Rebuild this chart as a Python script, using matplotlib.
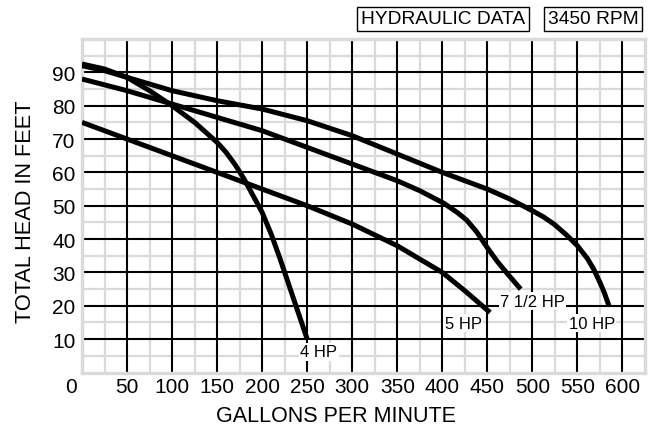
import matplotlib
matplotlib.use('Agg')
import matplotlib.pyplot as plt
import numpy as np
from matplotlib.transforms import ScaledTranslation

plt.rcParams['font.family'] = ['Liberation Sans', 'DejaVu Sans']

# ---- data ----
gpm_4hp = [0, 25, 50, 75, 100, 125, 150, 160, 170, 180, 190, 200, 210, 220, 230, 240, 250]
head_4hp = [92.5, 91, 88.5, 84.5, 80, 75, 69, 66, 62.3, 58, 53, 48, 41.5, 34, 26, 18, 10]

gpm_5hp = [0, 50, 100, 150, 200, 250, 300, 350, 400, 425, 453]
head_5hp = [75, 70, 65, 60, 55, 50, 44.5, 38, 30, 24.5, 18]

gpm_75hp = [0, 50, 100, 150, 200, 250, 300, 350, 375, 402, 417, 427, 438, 450, 461, 472, 487]
head_75hp = [88, 84.5, 80.5, 76.5, 72.5, 67.5, 62.5, 57.5, 54.5, 50.7, 47.9, 45.7, 42.2, 37.4, 33.3, 29.7, 25]

gpm_10hp = [0, 25, 50, 100, 150, 200, 250, 300, 350, 400, 450, 475, 500, 512, 524, 538, 550, 561, 568, 575, 580, 585]
head_10hp = [92, 90.5, 88.5, 84.5, 81.5, 79, 75.5, 71, 65.5, 60, 55, 52, 48.5, 46.7, 44.5, 41.2, 38, 34.2, 31, 27, 23.8, 20]

curve_labels = ['4 HP', '5 HP', '7 1/2 HP', '10 HP']
label_gpm = [263, 423, 500, 566]
label_head = [6.2, 14.8, 21.4, 14.8]

x_tick_labels = ['50', '100', '150', '200', '250', '300', '350', '400', '450', '500', '550', '600']
y_tick_labels = ['10', '20', '30', '40', '50', '60', '70', '80', '90']

# ---- figure ----
fig = plt.figure(figsize=(6.54, 4.31), dpi=100)
ax = fig.add_axes([82/654, 1-373.5/431, 563/654, 333.5/431])
ax.set_xlim(0, 625)
ax.set_ylim(0, 100)

x_major = np.arange(50, 601, 50)
x_minor = np.arange(25, 625, 50)
y_major = np.arange(10, 91, 10)
y_minor = np.arange(5, 100, 10)

grey = '#dadada'
ax.vlines(x_minor, 0, 100, color=grey, lw=1.6, zorder=1)
ax.hlines(y_minor, 0, 625, color=grey, lw=1.6, zorder=1)
ax.vlines(x_major, 0, 100, color='black', lw=1.5, zorder=2)
ax.hlines(y_major, 0, 625, color='black', lw=1.5, zorder=2)

for s in ax.spines.values():
    s.set_color(grey)
    s.set_linewidth(2.4)

for gx, gy in [(gpm_4hp, head_4hp), (gpm_5hp, head_5hp), (gpm_75hp, head_75hp), (gpm_10hp, head_10hp)]:
    ax.plot(gx, gy, color='black', lw=3.6, solid_capstyle='butt', solid_joinstyle='round', zorder=3)

for t, x, y in zip(curve_labels, label_gpm, label_head):
    ax.text(x, y, t, ha='center', va='center', fontsize=12, zorder=4,
            bbox=dict(facecolor='white', edgecolor='none', pad=1.0))

ax.set_xticks(x_major)
ax.set_xticklabels(x_tick_labels)
ax.set_yticks(y_major)
ax.set_yticklabels(y_tick_labels)
ax.tick_params(axis='both', length=0, labelsize=15)
ax.tick_params(axis='x', pad=3)
ax.tick_params(axis='y', pad=4.5)

# the separate "0" at the corner
ax.text(0, 0, '0', fontsize=15, ha='center', va='top',
        transform=ax.get_xaxis_transform() + ScaledTranslation(-11.3/100, -3/72, fig.dpi_scale_trans))

# axis titles
fig.text(336/654, 1-417/431, 'GALLONS PER MINUTE', ha='center', va='center', fontsize=15.5)
fig.text(26/654, 1-211.5/431, 'TOTAL HEAD IN FEET', ha='center', va='center', fontsize=15.7, rotation=90)

# header boxes
fig.text(443/654, 1-20/431, 'HYDRAULIC DATA', ha='center', va='center', fontsize=13.8,
         bbox=dict(facecolor='white', edgecolor='black', lw=1.0, boxstyle='square,pad=0.2'))
fig.text(593/654, 1-20/431, '3450 RPM', ha='center', va='center', fontsize=13.8,
         bbox=dict(facecolor='white', edgecolor='black', lw=1.0, boxstyle='square,pad=0.2'))

fig.savefig('out.png', dpi=100)
